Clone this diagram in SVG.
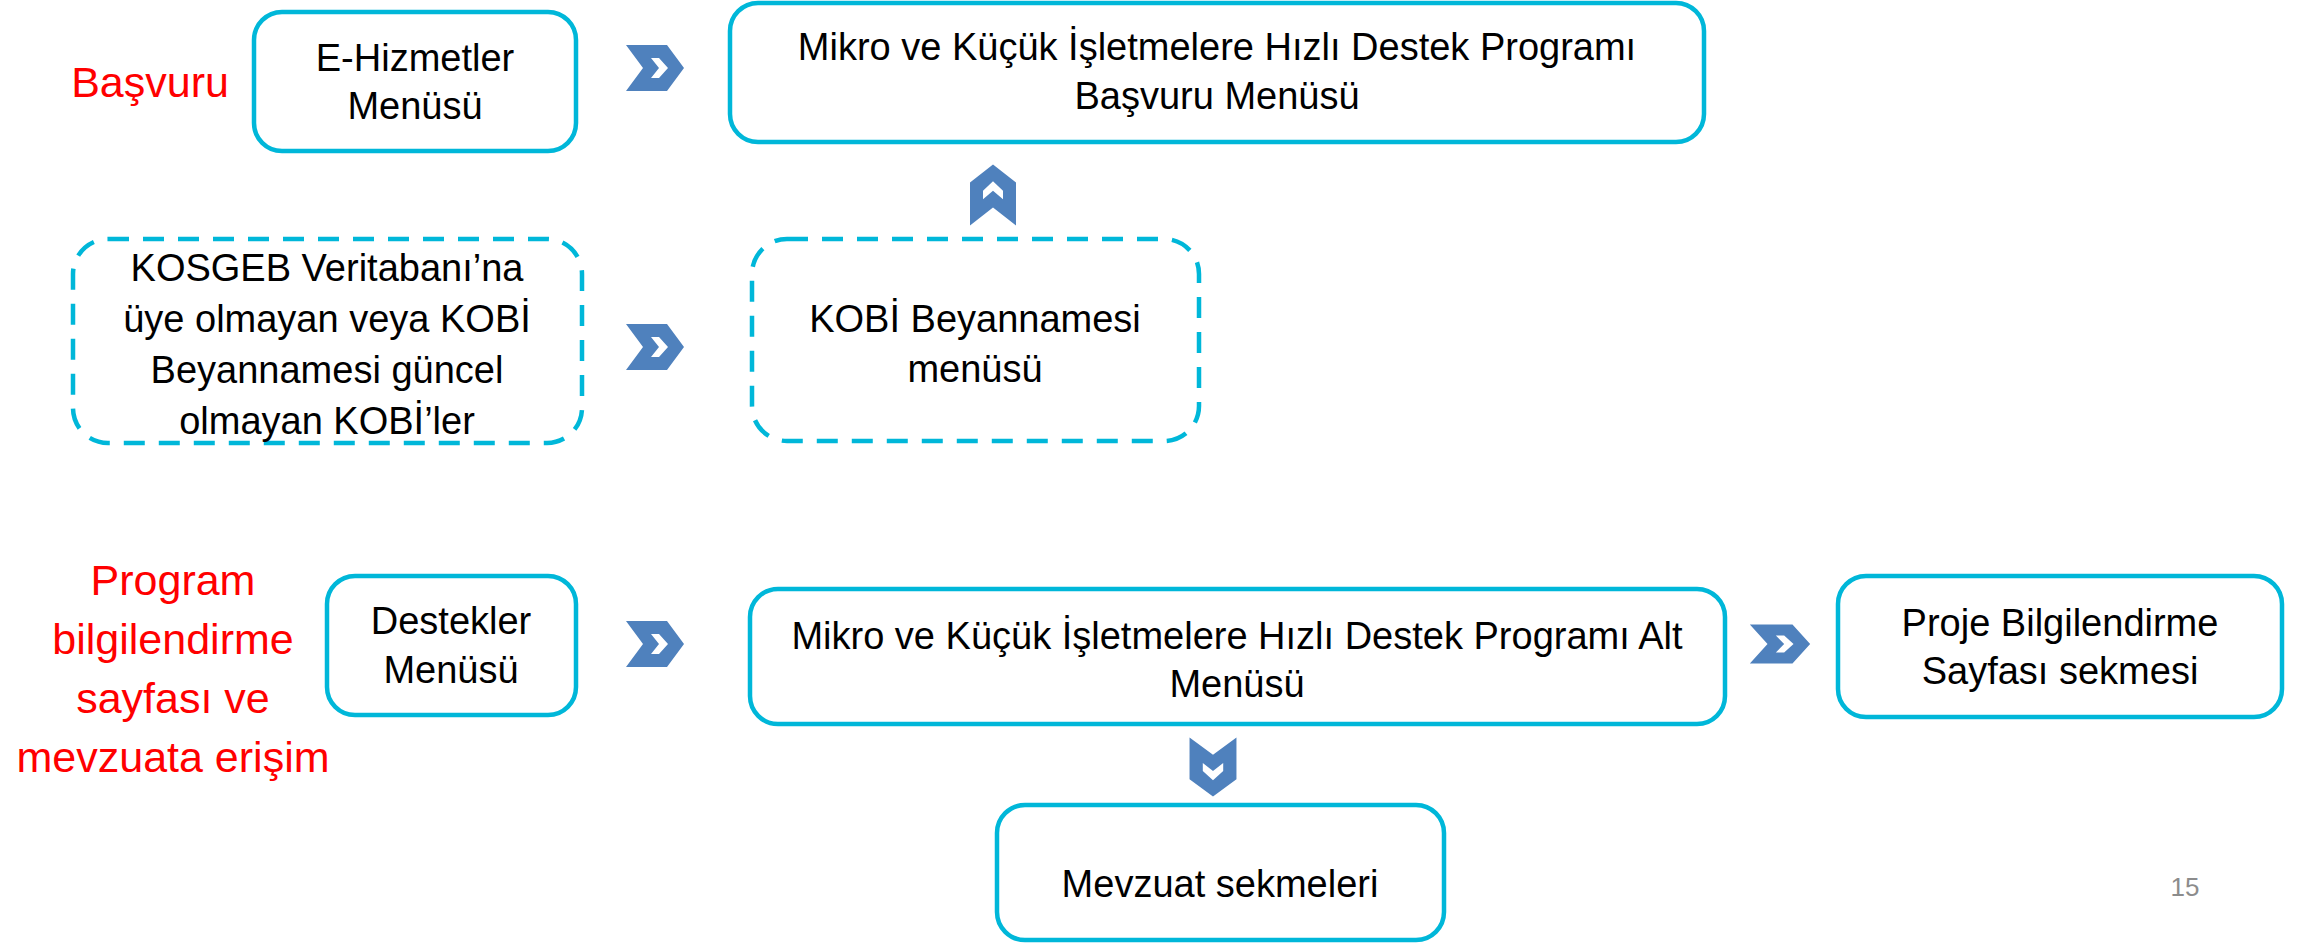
<svg xmlns="http://www.w3.org/2000/svg" width="2298" height="943" viewBox="0 0 2298 943">
<style>
.box{fill:#fff;stroke:#00B7D9;stroke-width:4.5}
.dash{fill:#fff;stroke:#00B7D9;stroke-width:4.5;stroke-dasharray:21 14}
.t{font-family:"Liberation Sans",Arial,sans-serif;font-size:38px;fill:#000;text-anchor:middle}
.r{font-family:"Liberation Sans",Arial,sans-serif;font-size:43px;fill:#FF0000;text-anchor:middle}
.pg{font-family:"Liberation Sans",Arial,sans-serif;font-size:26px;fill:#8C8C8C;text-anchor:middle}
</style>
<defs>
<g id="chev">
<polygon points="-29,-23 12,-23 29,0 12,23 -29,23 -12,0" fill="#4F81BD"/>
<polygon points="-4,-10 4,-10 13,0 4,10 -4,10 4,0" fill="#fff"/>
</g>
</defs>
<rect width="2298" height="943" fill="#fff"/>
<text class="r" x="150" y="97">Başvuru</text>
<text class="r"><tspan x="173" y="595">Program</tspan><tspan x="173" y="654">bilgilendirme</tspan><tspan x="173" y="713">sayfası ve</tspan><tspan x="173" y="772">mevzuata erişim</tspan></text>
<g id="connectors">
<use href="#chev" transform="translate(655,68)"/>
<use href="#chev" transform="translate(655,347)"/>
<use href="#chev" transform="translate(655,644)"/>
<use href="#chev" transform="translate(1780,644) scale(1.04,0.85)"/>
<use href="#chev" transform="translate(993,195) rotate(-90) scale(1.05,1)"/>
<use href="#chev" transform="translate(1213,767) rotate(90) scale(1.02,1.02)"/>
</g>
<g id="n1"><rect class="box" x="254" y="12" width="322" height="139" rx="28"/>
<text class="t"><tspan x="415" y="71">E-Hizmetler</tspan><tspan x="415" y="119">Menüsü</tspan></text></g>
<g id="n2"><rect class="box" x="730" y="3" width="974" height="139" rx="28"/>
<text class="t"><tspan x="1217" y="60">Mikro ve Küçük İşletmelere Hızlı Destek Programı</tspan><tspan x="1217" y="109">Başvuru Menüsü</tspan></text></g>
<g id="n3"><rect class="dash" x="73" y="239" width="509" height="204" rx="35"/>
<text class="t"><tspan x="327" y="281">KOSGEB Veritabanı’na</tspan><tspan x="327" y="332">üye olmayan veya KOBİ</tspan><tspan x="327" y="383">Beyannamesi güncel</tspan><tspan x="327" y="434">olmayan KOBİ’ler</tspan></text></g>
<g id="n4"><rect class="dash" x="752" y="239" width="447" height="202" rx="35"/>
<text class="t"><tspan x="975" y="332">KOBİ Beyannamesi</tspan><tspan x="975" y="382">menüsü</tspan></text></g>
<g id="n5"><rect class="box" x="327" y="576" width="249" height="139" rx="28"/>
<text class="t"><tspan x="451" y="634">Destekler</tspan><tspan x="451" y="683">Menüsü</tspan></text></g>
<g id="n6"><rect class="box" x="750" y="589" width="975" height="135" rx="28"/>
<text class="t"><tspan x="1237" y="649">Mikro ve Küçük İşletmelere Hızlı Destek Programı Alt</tspan><tspan x="1237" y="697">Menüsü</tspan></text></g>
<g id="n7"><rect class="box" x="1838" y="576" width="444" height="141" rx="28"/>
<text class="t"><tspan x="2060" y="636">Proje Bilgilendirme</tspan><tspan x="2060" y="684">Sayfası sekmesi</tspan></text></g>
<g id="n8"><rect class="box" x="997" y="805" width="447" height="135" rx="28"/>
<text class="t" x="1220" y="897">Mevzuat sekmeleri</text></g>
<text class="pg" x="2185" y="896">15</text>
</svg>
